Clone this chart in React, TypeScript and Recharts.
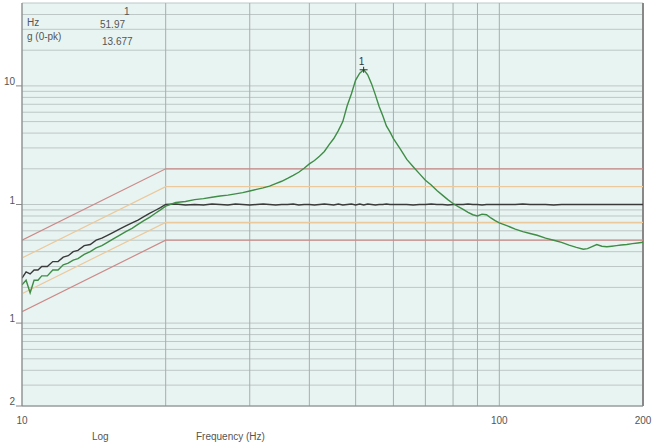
import React from 'react';
import { LineChart, Line, XAxis, YAxis, CartesianGrid, ReferenceDot, ReferenceLine } from 'recharts';

const freqs = [
  10, 10.2, 10.4, 10.6, 10.8, 11, 11.3, 11.6, 11.9, 12.2, 12.5, 12.8, 13.1, 13.5, 13.9, 14.3, 14.7, 15.1, 15.5, 16, 16.5, 17, 17.5, 18, 18.5, 19, 19.5,
  20, 21, 22, 23, 24, 25, 26, 27, 28, 29, 30, 31, 32, 33, 34, 35, 36, 37, 38, 39, 40,
  41, 42, 43, 44, 45, 46, 47, 48, 49, 50, 51, 52, 53, 54, 55, 56, 57, 58, 59, 60,
  62, 64, 66, 68, 70, 72, 74, 76, 78, 80, 82, 84, 86, 88, 90, 92, 94, 96, 98, 100,
  104, 108, 112, 116, 120, 125, 130, 135, 140, 145, 150, 153, 156,
  160, 164, 168, 172, 176, 180, 185, 190, 195, 200,
];

const controlG = [
  0.24, 0.27, 0.26, 0.28, 0.28, 0.30, 0.30, 0.33, 0.33, 0.36, 0.37, 0.40, 0.41, 0.45, 0.46, 0.50, 0.52, 0.55, 0.58, 0.62, 0.66, 0.70, 0.74, 0.79, 0.84, 0.89, 0.94,
  1.0, 1.01, 0.99, 1.0, 0.99, 1.01, 1.0, 0.99, 1.01, 1.0, 0.99, 1.0, 1.01, 1.0, 0.99, 1.0, 1.0, 1.01, 0.99, 1.0, 1.0,
  0.99, 1.0, 1.01, 1.0, 0.99, 1.01, 0.99, 1.0, 1.01, 0.99, 1.01, 0.99, 1.01, 1.0, 0.99, 1.0, 1.0, 1.01, 1.0, 1.0,
  1.0, 1.0, 0.99, 1.0, 1.0, 1.01, 1.0, 1.0, 0.99, 1.0, 1.0, 1.0, 1.01, 1.0, 1.0, 0.99, 1.0, 1.0, 1.0, 1.0,
  1.0, 1.0, 1.01, 1.0, 1.0, 1.0, 0.99, 1.0, 1.0, 1.0, 1.0, 1.0, 1.0,
  1.0, 1.0, 1.0, 1.0, 1.0, 1.0, 1.0, 1.0, 1.0, 1.0,
];

const responseG = [
  0.21, 0.23, 0.18, 0.23, 0.23, 0.25, 0.25, 0.28, 0.28, 0.31, 0.32, 0.34, 0.35, 0.38, 0.40, 0.43, 0.45, 0.48, 0.51, 0.55, 0.59, 0.63, 0.68, 0.73, 0.78, 0.84, 0.9,
  0.97, 1.04, 1.06, 1.1, 1.12, 1.15, 1.18, 1.2, 1.23, 1.26, 1.3, 1.34, 1.38, 1.43, 1.5, 1.57, 1.66, 1.76, 1.87, 2.02, 2.2,
  2.35, 2.55, 2.8, 3.2, 3.6, 4.2, 5.0, 6.8, 8.6, 11.2, 12.8, 13.68, 12.4, 10.4, 8.4, 6.7, 5.6, 4.6, 4.1, 3.6,
  2.95, 2.4, 2.08, 1.82, 1.6, 1.46, 1.31, 1.2, 1.1, 1.02, 0.96, 0.91, 0.86, 0.82, 0.8, 0.83, 0.82, 0.77, 0.73, 0.70,
  0.66, 0.62, 0.59, 0.57, 0.55, 0.52, 0.5, 0.48, 0.455, 0.435, 0.42, 0.425, 0.44,
  0.46, 0.445, 0.44, 0.445, 0.45, 0.455, 0.46, 0.468, 0.474, 0.48,
];

const limitFreqs = [10, 20, 200];
const abortHigh = [0.5, 2, 2];
const alarmHigh = [0.354, 1.414, 1.414];
const alarmLow = [0.177, 0.707, 0.707];
const abortLow = [0.125, 0.5, 0.5];

const peakHz = 51.97;
const peakG = 13.677;
const peakLabel = '1';

const xTicks = [10, 20, 30, 40, 50, 60, 70, 80, 90, 100, 200];
const xTickLabels: Record<string, string> = { '10': '10', '100': '100', '200': '200' };
const yTicks = [
  0.02, 0.03, 0.04, 0.05, 0.06, 0.07, 0.08, 0.09, 0.1,
  0.2, 0.3, 0.4, 0.5, 0.6, 0.7, 0.8, 0.9, 1,
  2, 3, 4, 5, 6, 7, 8, 9, 10, 20, 30, 40, 50,
];
const yTickLabels: Record<string, string> = { '10': '10', '1': '1', '0.1': '1', '0.02': '2' };

const toData = (xs: number[], ys: number[]) => xs.map((f, i) => ({ f, g: ys[i] }));
const controlData = toData(freqs, controlG);
const responseData = toData(freqs, responseG);
const abortHighData = toData(limitFreqs, abortHigh);
const alarmHighData = toData(limitFreqs, alarmHigh);
const alarmLowData = toData(limitFreqs, alarmLow);
const abortLowData = toData(limitFreqs, abortLow);

const FONT = '"Liberation Sans", Arial, sans-serif';
const TXT = '#555';

const XTick = (props: any) => {
  const { x, y, payload } = props;
  const label = xTickLabels[String(payload.value)];
  if (!label) return <g />;
  return (
    <text x={x} y={y + 18} textAnchor="middle" fontSize={10} fill={TXT} fontFamily={FONT}>
      {label}
    </text>
  );
};

const YTick = (props: any) => {
  const { x, y, payload } = props;
  const label = yTickLabels[String(payload.value)];
  if (!label) return <g />;
  return (
    <g>
      <line x1={x - 6} x2={x} y1={y} y2={y} stroke="#888" strokeWidth={1} />
      <text x={x - 7} y={y - 1} textAnchor="end" fontSize={10} fill={TXT} fontFamily={FONT}>
        {label}
      </text>
    </g>
  );
};

const PeakMarker = (props: any) => {
  const { cx, cy } = props;
  return (
    <g>
      <path d={`M${cx - 4},${cy}H${cx + 4}M${cx},${cy - 3}V${cy + 3}`} stroke="#333" strokeWidth={1} />
      <text x={cx - 2} y={cy - 5} textAnchor="middle" fontSize={10} fill="#333" fontFamily={FONT}>
        {peakLabel}
      </text>
    </g>
  );
};

const textStyle: React.CSSProperties = {
  position: 'absolute',
  fontSize: 10,
  color: TXT,
  fontFamily: FONT,
  lineHeight: '10px',
  whiteSpace: 'nowrap',
};

export default function App() {
  return (
    <div style={{ position: 'absolute', left: 0, top: 0, width: 657, height: 447, background: '#fff', overflow: 'hidden' }}>
      <LineChart width={657} height={447} margin={{ top: 3, right: 14, bottom: 11, left: 0 }}>
        <CartesianGrid fill="#e8f4f2" stroke="#bcc7c6" vertical={false} />
        <CartesianGrid stroke="#a5afae" horizontal={false} />
        <XAxis
          dataKey="f"
          type="number"
          scale="log"
          domain={[10, 200]}
          allowDataOverflow
          ticks={xTicks}
          tick={<XTick />}
          tickSize={0}
          tickMargin={0}
          height={30}
          stroke="#888"
          interval={0}
        />
        <YAxis
          dataKey="g"
          type="number"
          scale="log"
          domain={[0.02, 50]}
          allowDataOverflow
          ticks={yTicks}
          tick={<YTick />}
          tickSize={0}
          tickMargin={0}
          width={22}
          stroke="#888"
          interval={0}
        />
        <ReferenceLine x={200} stroke="#888" strokeWidth={2} />
        <Line data={abortHighData} dataKey="g" stroke="#cc8a8a" strokeWidth={1.2} dot={false} isAnimationActive={false} />
        <Line data={alarmHighData} dataKey="g" stroke="#ebc99c" strokeWidth={1.2} dot={false} isAnimationActive={false} />
        <Line data={alarmLowData} dataKey="g" stroke="#ebc99c" strokeWidth={1.2} dot={false} isAnimationActive={false} />
        <Line data={abortLowData} dataKey="g" stroke="#cc8a8a" strokeWidth={1.2} dot={false} isAnimationActive={false} />
        <Line data={controlData} dataKey="g" stroke="#3a3a3a" strokeWidth={1.4} dot={false} isAnimationActive={false} />
        <Line data={responseData} dataKey="g" stroke="#3f8d46" strokeWidth={1.4} dot={false} isAnimationActive={false} />
        <ReferenceDot x={peakHz} y={peakG} r={0} shape={<PeakMarker />} />
      </LineChart>
      <div style={{ ...textStyle, left: 124, top: 7 }}>1</div>
      <div style={{ ...textStyle, left: 27, top: 18 }}>Hz</div>
      <div style={{ ...textStyle, left: 100, top: 20 }}>{peakHz.toFixed(2)}</div>
      <div style={{ ...textStyle, left: 27, top: 32 }}>g (0-pk)</div>
      <div style={{ ...textStyle, left: 102, top: 37 }}>{peakG.toFixed(3)}</div>
      <div style={{ ...textStyle, left: 92, top: 432 }}>Log</div>
      <div style={{ ...textStyle, left: 196, top: 432 }}>Frequency (Hz)</div>
    </div>
  );
}
